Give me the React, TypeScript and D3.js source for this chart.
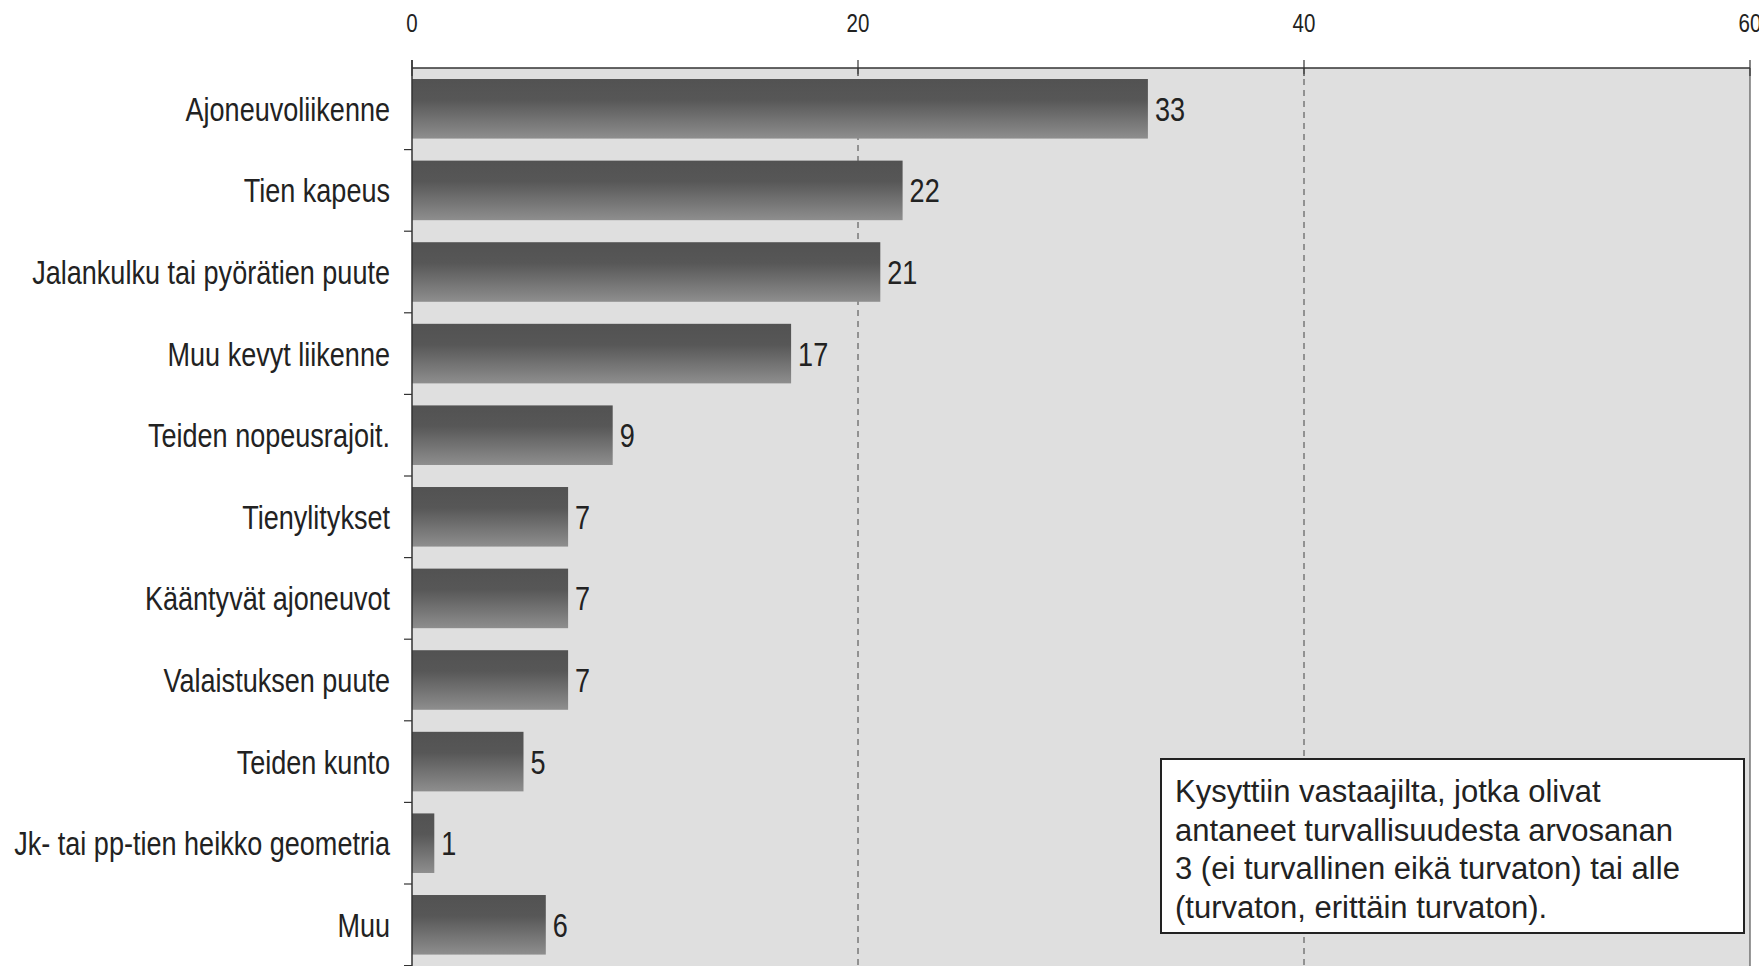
import React, { useEffect, useRef } from "react";
import * as d3 from "d3";

const categories = [
  "Ajoneuvoliikenne",
  "Tien kapeus",
  "Jalankulku tai pyörätien puute",
  "Muu kevyt liikenne",
  "Teiden nopeusrajoit.",
  "Tienylitykset",
  "Kääntyvät ajoneuvot",
  "Valaistuksen puute",
  "Teiden kunto",
  "Jk- tai pp-tien heikko geometria",
  "Muu",
];
const values = [33, 22, 21, 17, 9, 7, 7, 7, 5, 1, 6];
const xTicks = [0, 20, 40, 60];
const noteLines = [
  "Kysyttiin vastaajilta, jotka olivat",
  "antaneet turvallisuudesta arvosanan",
  "3 (ei turvallinen eikä turvaton) tai alle",
  "(turvaton, erittäin turvaton).",
];

const W = 1759;
const H = 966;
const SANS = "'Liberation Sans', Arial, sans-serif";
const NARROW_SCALE = 0.82;

export default function App() {
  const ref = useRef<SVGSVGElement>(null);

  useEffect(() => {
    const svg = d3.select(ref.current);
    svg.selectAll("*").remove();

    const left = 412;
    const right = 1750;
    const top = 68;
    const bandH = 81.6;
    const bottom = top + bandH * categories.length;

    const x = d3.scaleLinear().domain([0, 60]).range([left, right]);
    const y = d3
      .scaleBand<string>()
      .domain(categories)
      .range([top, bottom])
      .paddingInner(0.27)
      .paddingOuter(0.135);

    const defs = svg.append("defs");
    const grad = defs
      .append("linearGradient")
      .attr("id", "barGrad")
      .attr("x1", 0)
      .attr("y1", 0)
      .attr("x2", 0)
      .attr("y2", 1);
    grad.append("stop").attr("offset", "0%").attr("stop-color", "#525252");
    grad.append("stop").attr("offset", "35%").attr("stop-color", "#575757");
    grad.append("stop").attr("offset", "100%").attr("stop-color", "#8e8e8e");

    // plot background
    svg
      .append("rect")
      .attr("x", left)
      .attr("y", top)
      .attr("width", right - left)
      .attr("height", bottom - top + 10)
      .attr("fill", "#dfdfdf");

    // dashed gridlines
    svg
      .append("g")
      .selectAll("line")
      .data(xTicks.filter((t) => t > 0 && t < 60))
      .join("line")
      .attr("x1", (d) => x(d))
      .attr("x2", (d) => x(d))
      .attr("y1", top)
      .attr("y2", bottom + 10)
      .attr("stroke", "#444")
      .attr("stroke-width", 1)
      .attr("stroke-dasharray", "6,5");

    // frame lines
    svg
      .append("line")
      .attr("x1", left)
      .attr("x2", right)
      .attr("y1", top)
      .attr("y2", top)
      .attr("stroke", "#333")
      .attr("stroke-width", 1.5);
    svg
      .append("line")
      .attr("x1", right)
      .attr("x2", right)
      .attr("y1", top)
      .attr("y2", bottom + 10)
      .attr("stroke", "#555")
      .attr("stroke-width", 1.2);

    // top axis ticks
    svg
      .append("g")
      .selectAll("line")
      .data(xTicks)
      .join("line")
      .attr("x1", (d) => x(d))
      .attr("x2", (d) => x(d))
      .attr("y1", top - 8)
      .attr("y2", top + 8)
      .attr("stroke", "#333")
      .attr("stroke-width", 1.2);
    svg
      .append("g")
      .selectAll("text")
      .data(xTicks)
      .join("text")
      .attr("transform", (d) => `translate(${x(d)},32) scale(${NARROW_SCALE},1)`)
      .attr("text-anchor", "middle")
      .attr("font-family", SANS)
      .attr("font-size", 25)
      .attr("fill", "#222")
      .text((d) => String(d));

    // bars
    svg
      .append("g")
      .selectAll("rect")
      .data(categories)
      .join("rect")
      .attr("x", x(0))
      .attr("y", (d) => y(d)!)
      .attr("width", (_d, i) => x(values[i]) - x(0))
      .attr("height", y.bandwidth())
      .attr("fill", "url(#barGrad)");

    // value labels
    svg
      .append("g")
      .selectAll("text")
      .data(categories)
      .join("text")
      .attr(
        "transform",
        (d, i) => `translate(${x(values[i]) + 7},${y(d)! + y.bandwidth() / 2 + 12}) scale(${NARROW_SCALE},1)`
      )
      .attr("font-family", SANS)
      .attr("font-size", 33)
      .attr("fill", "#222")
      .text((_d, i) => String(values[i]));

    // left axis line + ticks
    svg
      .append("line")
      .attr("x1", left)
      .attr("x2", left)
      .attr("y1", top - 8)
      .attr("y2", bottom + 10)
      .attr("stroke", "#333")
      .attr("stroke-width", 1.5);
    svg
      .append("g")
      .selectAll("line")
      .data(d3.range(categories.length))
      .join("line")
      .attr("x1", left - 8)
      .attr("x2", left)
      .attr("y1", (i) => top + bandH * (i + 1))
      .attr("y2", (i) => top + bandH * (i + 1))
      .attr("stroke", "#333")
      .attr("stroke-width", 1.2);

    // category labels
    svg
      .append("g")
      .selectAll("text")
      .data(categories)
      .join("text")
      .attr(
        "transform",
        (d) => `translate(${left - 22},${y(d)! + y.bandwidth() / 2 + 12}) scale(${NARROW_SCALE},1)`
      )
      .attr("text-anchor", "end")
      .attr("font-family", SANS)
      .attr("font-size", 33)
      .attr("fill", "#222")
      .text((d) => d);

    // note box
    const bx = 1161;
    const by = 759;
    svg
      .append("rect")
      .attr("x", bx)
      .attr("y", by)
      .attr("width", 583)
      .attr("height", 174)
      .attr("fill", "#fff")
      .attr("stroke", "#222")
      .attr("stroke-width", 2);
    svg
      .append("g")
      .selectAll("text")
      .data(noteLines)
      .join("text")
      .attr("x", bx + 14)
      .attr("y", (_d, i) => by + 43 + i * 38.5)
      .attr("font-family", SANS)
      .attr("font-size", 31)
      .attr("fill", "#222")
      .text((d) => d);
  }, []);

  return (
    <div style={{ position: "absolute", left: 0, top: 0, width: W, height: H, background: "#fff", overflow: "hidden" }}>
      <svg ref={ref} width={W} height={H} style={{ display: "block" }} />
    </div>
  );
}
